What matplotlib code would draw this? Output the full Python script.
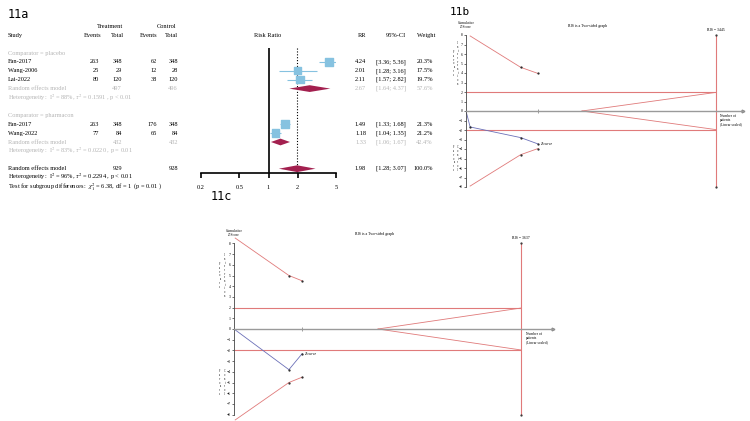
import matplotlib
matplotlib.use("Agg")
import matplotlib.pyplot as plt
import matplotlib.transforms as mtransforms
from matplotlib.ticker import NullLocator

plt.rcParams['font.family'] = ['Liberation Serif', 'DejaVu Serif']
plt.rcParams['mathtext.fontset'] = 'stix'

# ---- 11a forest plot data ----
studies = ["Fan-2017", "Wang-2006", "Lai-2022", "Fan-2017", "Wang-2022"]
events_t = [263, 25, 80, 263, 77]
total_t = [348, 29, 120, 348, 84]
events_c = [62, 12, 38, 176, 65]
total_c = [348, 28, 120, 348, 84]
rr = [4.24, 2.01, 2.11, 1.49, 1.18]
rr_lo = [3.36, 1.28, 1.57, 1.33, 1.04]
rr_hi = [5.36, 3.16, 2.82, 1.68, 1.35]
weights = [20.3, 17.5, 19.7, 21.3, 21.2]

groups = ["Comparator = placebo", "Comparator = pharmacon"]
sub_total_t = [497, 432]
sub_total_c = [496, 432]
sub_rr = [2.67, 1.33]
sub_lo = [1.64, 1.06]
sub_hi = [4.37, 1.67]
sub_w = [57.6, 42.4]
sub_het = [r"Heterogeneity:  I$^2$ = 88%, $\tau^2$ = 0.1591 , p < 0.01",
           r"Heterogeneity:  I$^2$ = 83%, $\tau^2$ = 0.0220 , p = 0.01"]

all_total_t, all_total_c = 929, 928
all_rr, all_lo, all_hi = 1.98, 1.28, 3.07
all_het = r"Heterogeneity:  I$^2$ = 96%, $\tau^2$ = 0.2294 , p < 0.01"
sub_test = r"Test for subgroup differences:  $\chi^2_1$ = 6.38, df = 1  (p = 0.01 )"
rr_ticks = [0.2, 0.5, 1, 2, 5]

# ---- 11b / 11c trial sequential analysis data ----
b_n = [57, 753, 993]
b_z = [-1.68, -2.8, -3.47]
b_bound = [7.9, 4.6, 3.95]
b_ris = 3445
b_fut = 1598
b_end = 3817

c_n = [696, 864]
c_z = [-3.8, -2.3]
c_bound_n = [15, 696, 864]
c_bound = [8.5, 5.0, 4.5]
c_ris = 3637
c_fut = 1825
c_end = 4043

W, H = 750, 421
fig = plt.figure(figsize=(7.5, 4.21), dpi=100)

BLUE = "#86c2e0"
MAROON = "#a3204f"
GRAY = "#b5b5b5"
RED = "#e07a7a"
ZBLUE = "#6b70b8"
FS = 4.6


def px_axes(left, top, right, bottom):
    return fig.add_axes([left / W, 1 - bottom / H, (right - left) / W, (bottom - top) / H])


# forest plot
ax = px_axes(201, 44.1, 336, 173.15)
ax.set_xscale('log')
ax.set_xlim(0.2, 5)
ax.set_ylim(13.5, -1)
ax.patch.set_alpha(0)
for s in ['top', 'right', 'left']:
    ax.spines[s].set_visible(False)
ax.spines['bottom'].set_linewidth(1.2)
ax.set_xticks(rr_ticks)
ax.set_xticklabels([str(t) for t in rr_ticks])
ax.xaxis.set_minor_locator(NullLocator())
ax.tick_params(axis='x', length=3.5, width=1.2, labelsize=FS, pad=5)
ax.set_yticks([])

study_rows = [1, 2, 3, 8, 9]
group_rows = [0, 7]
sub_rows = [4, 10]
all_row = 13

ax.vlines(1, -0.55, 13.5, color='black', lw=1.2)
ax.vlines(all_rr, -0.55, 13.5, color='black', lw=0.8, linestyles=(0, (1, 1.6)))
ax.hlines(study_rows, rr_lo, rr_hi, color=BLUE, lw=0.8, zorder=2)
ax.scatter(rr, study_rows, marker='s', s=[30 * w / 20 for w in weights], color=BLUE, zorder=3)


def diamond(est, lo, hi, row):
    ax.fill([lo, est, hi, est], [row, row - 0.38, row, row + 0.38], color=MAROON, lw=0, zorder=3)


for i in range(2):
    diamond(sub_rr[i], sub_lo[i], sub_hi[i], sub_rows[i])
diamond(all_rr, all_lo, all_hi, all_row)

tr = mtransforms.blended_transform_factory(fig.transFigure, ax.transData)


def txt(px, row, s, ha='left', color='black'):
    ax.text(px / W, row, s, transform=tr, ha=ha, va='center', fontsize=FS,
            color=color, clip_on=False)


txt(110, -3, "Treatment", ha='center')
txt(167, -3, "Control", ha='center')
txt(8, -2, "Study")
txt(101, -2, "Events", ha='right')
txt(124, -2, "Total", ha='right')
txt(157, -2, "Events", ha='right')
txt(178, -2, "Total", ha='right')
txt(268, -2, "Risk Ratio", ha='center')
txt(362, -2, "RR", ha='center')
txt(396, -2, "95%-CI", ha='center')
txt(426, -2, "Weight", ha='center')

for i, r in enumerate(study_rows):
    txt(8, r, studies[i])
    txt(99, r, str(events_t[i]), ha='right')
    txt(122, r, str(total_t[i]), ha='right')
    txt(157, r, str(events_c[i]), ha='right')
    txt(178, r, str(total_c[i]), ha='right')
    txt(366, r, f"{rr[i]:.2f}", ha='right')
    txt(376, r, f"[{rr_lo[i]:.2f}; {rr_hi[i]:.2f}]")
    txt(433, r, f"{weights[i]:.1f}%", ha='right')

for i in range(2):
    txt(8, group_rows[i], groups[i], color=GRAY)
    r = sub_rows[i]
    txt(8, r, "Random effects model", color=GRAY)
    txt(122, r, str(sub_total_t[i]), ha='right', color=GRAY)
    txt(178, r, str(sub_total_c[i]), ha='right', color=GRAY)
    txt(366, r, f"{sub_rr[i]:.2f}", ha='right', color=GRAY)
    txt(376, r, f"[{sub_lo[i]:.2f}; {sub_hi[i]:.2f}]", color=GRAY)
    txt(433, r, f"{sub_w[i]:.1f}%", ha='right', color=GRAY)
    txt(8, r + 1, sub_het[i], color=GRAY)

txt(8, all_row, "Random effects model")
txt(122, all_row, str(all_total_t), ha='right')
txt(178, all_row, str(all_total_c), ha='right')
txt(366, all_row, f"{all_rr:.2f}", ha='right')
txt(376, all_row, f"[{all_lo:.2f}; {all_hi:.2f}]")
txt(433, all_row, "100.0%", ha='right')
txt(8, all_row + 0.95, all_het)
txt(8, all_row + 2.15, sub_test)


# trial sequential analysis panels
def tsa_panel(x0, y0, ppx, ppu, n_end, ris, pts_n, z, bnd_n, bnd, fut, ris_text):
    a = px_axes(x0, y0 - 9 * ppu, x0 + n_end * ppx, y0 + 9 * ppu)
    a.set_xlim(0, n_end)
    a.set_ylim(-9, 9)
    a.patch.set_alpha(0)
    for s in ['top', 'right']:
        a.spines[s].set_visible(False)
    a.spines['left'].set_bounds(-8, 8)
    a.spines['left'].set_linewidth(0.6)
    a.spines['left'].set_color('#444444')
    a.spines['bottom'].set_position(('data', 0))
    a.spines['bottom'].set_color('#9a9a9a')
    a.spines['bottom'].set_linewidth(1.0)
    a.set_yticks(range(-8, 9))
    a.tick_params(axis='y', labelsize=2.8, length=1.5, width=0.4, pad=1)
    a.set_xticks([pts_n[-1]])
    a.set_xticklabels([''])
    a.tick_params(axis='x', direction='inout', length=2.5, width=0.5, color='#777777')
    a.plot(1, 0, marker='>', ms=2, color='#8a8a8a', transform=a.get_yaxis_transform(),
           clip_on=False)

    a.hlines([1.96, -1.96], 0, ris, color=RED, lw=0.8)
    a.vlines(ris, -8, 8, color=RED, lw=0.8)
    a.plot([ris, ris], [-8, 8], ls='none', marker='.', ms=1.2, color='#333333', clip_on=False)
    a.plot(bnd_n, bnd, color=RED, lw=0.6)
    a.plot(bnd_n, [-v for v in bnd], color=RED, lw=0.6)
    a.plot(bnd_n[1:] + bnd_n[1:], bnd[1:] + [-v for v in bnd[1:]], ls='none', marker='.',
           ms=1.2, color='#222222')
    a.plot([fut, ris], [0, 1.96], color=RED, lw=0.6)
    a.plot([fut, ris], [0, -1.96], color=RED, lw=0.6)
    a.plot([0] + pts_n, [0] + z, color=ZBLUE, lw=0.6)
    a.plot(pts_n, z, ls='none', marker='.', ms=1.2, color='#222222')

    a.text(pts_n[-1] + 40, z[-1], "Z-curve", fontsize=2.8, style='italic', va='center')
    a.text(0, 8.6, "Cumulative\nZ-Score", fontsize=2.6, ha='center', va='bottom',
           linespacing=1.0, clip_on=False)
    a.text(n_end * 0.44, 8.7, "RIS is a Two-sided graph", fontsize=2.8, ha='center',
           va='bottom')
    a.text(ris, 8.3, ris_text, fontsize=2.8, ha='center', va='bottom')
    a.text(ris + n_end * 0.015, -0.3, "Number of\npatients\n(Linear scaled)", fontsize=2.6,
           va='top', linespacing=1.0, clip_on=False)
    fav1 = "\n".join("Favours")
    fav2 = "\n".join("Intervention")
    fav3 = "\n".join("Control")
    a.text(-n_end * 0.045, 5.0, fav1, fontsize=1.8, ha='center', va='center',
           linespacing=0.9, clip_on=False)
    a.text(-n_end * 0.03, 5.0, fav2, fontsize=1.8, ha='center', va='center',
           linespacing=0.9, clip_on=False)
    a.text(-n_end * 0.045, -5.0, fav1, fontsize=1.8, ha='center', va='center',
           linespacing=0.9, clip_on=False)
    a.text(-n_end * 0.03, -5.0, fav3, fontsize=1.8, ha='center', va='center',
           linespacing=0.9, clip_on=False)
    return a


tsa_panel(466, 111, 250 / b_ris, 9.5, b_end, b_ris, b_n, b_z, b_n, b_bound, b_fut,
          "RIS = 3445")
tsa_panel(234, 329, 287 / c_ris, 10.7, c_end, c_ris, c_n, c_z, c_bound_n, c_bound, c_fut,
          "RIS = 3637")

fig.text(8 / W, 1 - 15 / H, "11a", fontsize=8.5, family='DejaVu Sans Mono', va='center')
fig.text(450 / W, 1 - 12 / H, "11b", fontsize=8, family='DejaVu Sans Mono', va='center')
fig.text(211 / W, 1 - 196 / H, "11c", fontsize=8.5, family='DejaVu Sans Mono', va='center')

fig.savefig("out.png", dpi=100)
